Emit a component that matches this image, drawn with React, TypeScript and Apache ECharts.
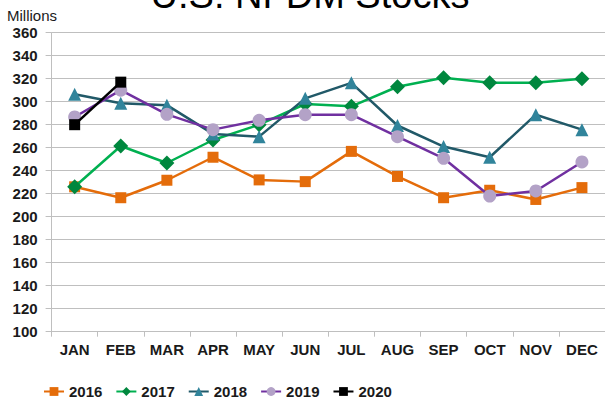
import React, { useEffect, useRef } from "react";
import * as echarts from "echarts";

const months = ["JAN", "FEB", "MAR", "APR", "MAY", "JUN", "JUL", "AUG", "SEP", "OCT", "NOV", "DEC"];
const years = ["2016", "2017", "2018", "2019", "2020"];
const s2016 = [226, 216.5, 231.7, 251.7, 232, 230.5, 256.8, 235, 216.5, 223, 215, 225.3];
const s2017 = [226, 261.5, 246.7, 266.7, 280, 298, 296, 313, 320.9, 316.5, 316.5, 320];
const s2018 = [306.5, 298.6, 297, 272, 269.6, 302.9, 316.4, 279.3, 261, 251.7, 288.7, 275.7];
const s2019 = [286.7, 310, 289, 275.7, 283.8, 288.7, 288.7, 269.6, 250.8, 218, 222.4, 247.6];
const s2020 = [280, 317];

const FONT = 'Arial, "Liberation Sans", sans-serif';

const styles = [
  { line: "#E46C0A", marker: "#E46C0A", symbol: "rect", size: 11 },
  { line: "#00B050", marker: "#00873E", symbol: "diamond", size: 15 },
  { line: "#215968", marker: "#31849B", symbol: "triangle", size: 13 },
  { line: "#7030A0", marker: "#B3A2C7", symbol: "circle", size: 13 },
  { line: "#000000", marker: "#000000", symbol: "rect", size: 11 },
];

export default function App() {
  const ref = useRef<HTMLDivElement>(null);
  useEffect(() => {
    if (!ref.current) return;
    const chart = echarts.init(ref.current, null, { renderer: "svg" });
    const datas = [s2016, s2017, s2018, s2019, s2020];
    chart.setOption({
      animation: false,
      backgroundColor: "#ffffff",
      textStyle: { fontFamily: FONT },
      graphic: [
        {
          type: "text",
          x: 310,
          y: -5,
          style: {
            text: "U.S. NFDM Stocks",
            align: "center",
            verticalAlign: "middle",
            font: `38px ${FONT}`,
            fill: "#000000",
          },
        },
        {
          type: "text",
          x: 7,
          y: 15,
          style: {
            text: "Millions",
            align: "left",
            verticalAlign: "middle",
            font: `15px ${FONT}`,
            fill: "#1a1a1a",
          },
        },
      ],
      grid: { left: 51.6, top: 32.7, width: 561.6, height: 299, containLabel: false },
      xAxis: {
        type: "category",
        data: months,
        boundaryGap: true,
        axisLine: { show: true, lineStyle: { color: "#BFBFBF", width: 1 } },
        axisTick: { show: true, length: 5, lineStyle: { color: "#BFBFBF" } },
        axisLabel: {
          margin: 10,
          color: "#1a1a1a",
          fontWeight: "bold",
          fontSize: 15,
          fontFamily: FONT,
          interval: 0,
        },
        splitLine: { show: false },
      },
      yAxis: {
        type: "value",
        min: 100,
        max: 360,
        interval: 20,
        axisLine: { show: true, lineStyle: { color: "#BFBFBF", width: 1 } },
        axisTick: { show: true, length: 6, lineStyle: { color: "#BFBFBF" } },
        axisLabel: {
          margin: 14,
          color: "#1a1a1a",
          fontWeight: "bold",
          fontSize: 15,
          fontFamily: FONT,
        },
        splitLine: { show: true, lineStyle: { color: "#BFBFBF", width: 1 } },
      },
      legend: {
        left: 38,
        top: 379,
        padding: 5,
        itemWidth: 20,
        itemHeight: 11,
        itemGap: 13,
        textStyle: { color: "#1a1a1a", fontWeight: "bold", fontSize: 15, fontFamily: FONT },
        data: years,
      },
      series: years.map((y, i) => ({
        name: y,
        type: "line",
        data: datas[i],
        symbol: styles[i].symbol,
        symbolSize: styles[i].size,
        showSymbol: true,
        lineStyle: { color: styles[i].line, width: 2.5 },
        itemStyle: { color: styles[i].marker },
        z: 2 + i,
      })),
    });
    return () => chart.dispose();
  }, []);
  return (
    <div
      ref={ref}
      style={{ position: "fixed", left: 0, top: 0, width: 605, height: 403 }}
    />
  );
}
